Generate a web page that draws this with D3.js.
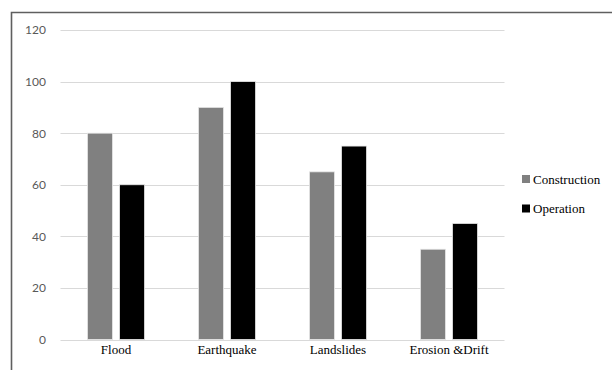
<!DOCTYPE html>
<html>
<head>
<meta charset="utf-8">
<script src="https://cdn.jsdelivr.net/npm/d3@7"></script>
<style>
  html, body { margin: 0; padding: 0; background: #fff; }
  svg { display: block; }
</style>
</head>
<body>
<svg id="chart" width="612" height="370"></svg>
<script>
// Hazard categories and the two project phases
const categories = ["Flood", "Earthquake", "Landslides", "Erosion &Drift"];
const seriesNames = ["Construction", "Operation"];
const construction = [80, 90, 65, 35];
const operation = [60, 100, 75, 45];
const yTicks = [0, 20, 40, 60, 80, 100, 120];
const seriesColors = ["#808080", "#000000"];

const SERIF = '"Liberation Serif"';
const SANS = '"Lato"';

const seriesValues = [construction, operation];
const rows = categories.map((c, i) => ({
  category: c,
  values: seriesNames.map((s, k) => ({ series: s, value: seriesValues[k][i], k }))
}));

const svg = d3.select("#chart");

// Outer frame of the chart area (continues past the right and bottom edges)
svg.append("path")
  .attr("d", "M11.5,372 V12.5 H614")
  .attr("fill", "none")
  .attr("stroke", "#5f5f5f")
  .attr("stroke-width", 1.6);

const plot = { left: 60.5, right: 504.5, top: 30, bottom: 339.5 };

const x0 = d3.scaleBand()
  .domain(categories)
  .range([plot.left, plot.right])
  .paddingInner(0.486)
  .paddingOuter(0.243);

const x1 = d3.scaleBand()
  .domain(seriesNames)
  .range([0, x0.bandwidth()])
  .paddingInner(0.22)
  .paddingOuter(0);

const y = d3.scaleLinear()
  .domain([0, 120])
  .range([plot.bottom, plot.top]);

// Horizontal gridlines
svg.append("g")
  .selectAll("line")
  .data(yTicks)
  .join("line")
  .attr("x1", plot.left)
  .attr("x2", plot.right)
  .attr("y1", d => Math.round(y(d)) + 0.5)
  .attr("y2", d => Math.round(y(d)) + 0.5)
  .attr("stroke", "#d9d9d9")
  .attr("stroke-width", 1.2);

// Y axis tick labels
const yAxis = d3.axisLeft(y).tickValues(yTicks).tickSize(0).tickPadding(0);
const gy = svg.append("g")
  .attr("transform", `translate(46,0)`)
  .call(yAxis);
gy.select(".domain").remove();
gy.selectAll("text")
  .style("font-family", SANS)
  .style("font-size", "12px")
  .attr("fill", "#595959");

// Bars
const groups = svg.append("g")
  .selectAll("g")
  .data(rows)
  .join("g")
  .attr("transform", d => `translate(${x0(d.category)},0)`);

groups.selectAll("rect")
  .data(d => d.values)
  .join("rect")
  .attr("x", d => x1(d.series))
  .attr("width", x1.bandwidth())
  .attr("y", d => y(d.value))
  .attr("height", d => y(0) - y(d.value))
  .attr("fill", d => seriesColors[d.k])
  .attr("stroke", "#e6e6e6")
  .attr("stroke-width", 0.8);

// Category labels
const xAxis = d3.axisBottom(x0).tickSize(0).tickPadding(0);
const gx = svg.append("g")
  .attr("transform", `translate(0,${plot.bottom})`)
  .call(xAxis);
gx.select(".domain").remove();
gx.selectAll("text")
  .attr("dy", "0.9em")
  .attr("y", 3)
  .style("font-family", SERIF)
  .style("font-size", "13px")
  .attr("fill", "#000");

// Legend
const legend = svg.append("g")
  .attr("transform", "translate(522,0)")
  .selectAll("g")
  .data(seriesNames)
  .join("g")
  .attr("transform", (d, i) => `translate(0,${179 + i * 29.5})`);

legend.append("rect")
  .attr("x", 0)
  .attr("y", -4)
  .attr("width", 8)
  .attr("height", 8)
  .attr("fill", (d, i) => seriesColors[i]);

legend.append("text")
  .attr("x", 11)
  .attr("y", 0)
  .attr("dy", "0.35em")
  .style("font-family", SERIF)
  .style("font-size", "13px")
  .attr("fill", "#000")
  .text(d => d);
</script>
</body>
</html>
